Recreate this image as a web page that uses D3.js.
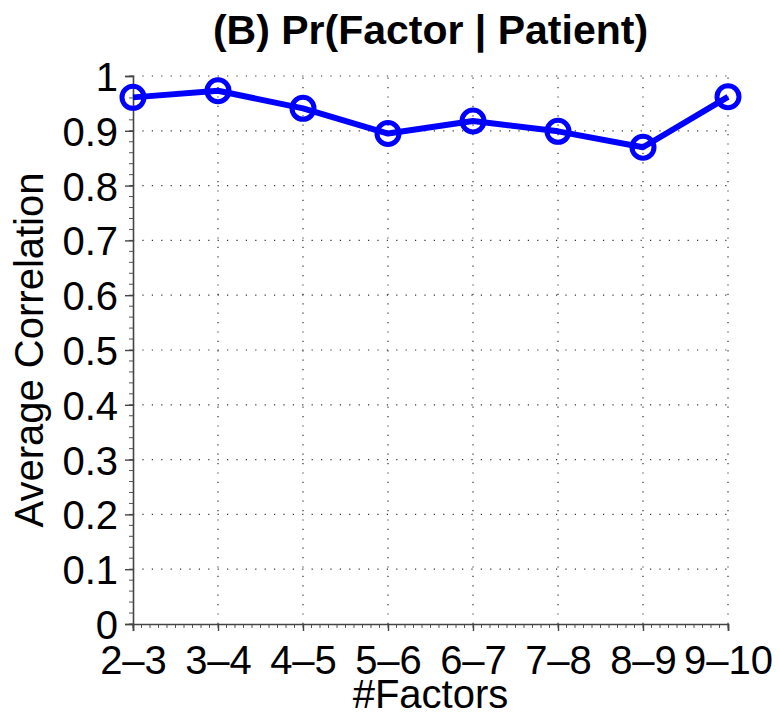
<!DOCTYPE html>
<html>
<head>
<meta charset="utf-8">
<script src="https://cdn.jsdelivr.net/npm/d3@7"></script>
<style>
  body { margin: 0; background: #fff; }
  text { font-family: "Liberation Sans", Arial, sans-serif; fill: #000; }
</style>
</head>
<body>
<div id="chart"></div>
<script>
const w = 780;
const h = 719;

const categories = ["2\u20133", "3\u20134", "4\u20135", "5\u20136", "6\u20137", "7\u20138", "8\u20139", "9\u201310"];
const values = [0.961, 0.973, 0.941, 0.895, 0.918, 0.899, 0.870, 0.962];
const yTicks = [0, 0.1, 0.2, 0.3, 0.4, 0.5, 0.6, 0.7, 0.8, 0.9, 1];
const yTickLabels = ["0", "0.1", "0.2", "0.3", "0.4", "0.5", "0.6", "0.7", "0.8", "0.9", "1"];

const margin = { top: 76, left: 133, right: 52, bottom: 95 };
const width = w - margin.left - margin.right;
const height = h - margin.top - margin.bottom;

const svg = d3.select('#chart').append('svg')
    .attr('width', w)
    .attr('height', h);

const chart = svg.append('g')
    .attr('transform', `translate(${margin.left}, ${margin.top})`);

const x = d3.scaleLinear()
    .domain([0, categories.length - 1])
    .range([0, width]);

const y = d3.scaleLinear()
    .domain([0, 1])
    .range([height, 0]);

// dotted grid
const grid = chart.append('g')
    .attr('stroke', '#333')
    .attr('stroke-width', 1.2)
    .attr('stroke-dasharray', '1.2,8.2');

grid.selectAll('.gy')
    .data(yTicks.slice(1))
    .enter().append('line')
      .attr('x1', 0).attr('x2', width)
      .attr('y1', d => y(d)).attr('y2', d => y(d));

grid.selectAll('.gx')
    .data(d3.range(1, categories.length))
    .enter().append('line')
      .attr('x1', d => x(d)).attr('x2', d => x(d))
      .attr('y1', height).attr('y2', 0);

// minor ticks
const minorY = d3.range(0, 1.0001, 0.02);
chart.append('g').selectAll('line')
    .data(minorY)
    .enter().append('line')
      .attr('x1', -4).attr('x2', 0)
      .attr('y1', d => y(d)).attr('y2', d => y(d))
      .attr('stroke', '#555').attr('stroke-width', 1);

const minorX = d3.range(0, categories.length - 1 + 0.0001, 0.1);
chart.append('g').selectAll('line')
    .data(minorX)
    .enter().append('line')
      .attr('x1', d => x(d)).attr('x2', d => x(d))
      .attr('y1', height).attr('y2', height + 4)
      .attr('stroke', '#555').attr('stroke-width', 1);

// axes
const yAxis = d3.axisLeft(y)
    .tickValues(yTicks)
    .tickFormat((d, i) => yTickLabels[i])
    .tickSize(8)
    .tickPadding(7);

const xAxis = d3.axisBottom(x)
    .tickValues(d3.range(categories.length))
    .tickFormat(i => categories[i])
    .tickSize(7)
    .tickPadding(10);

const gy = chart.append('g').call(yAxis);
const gx = chart.append('g')
    .attr('transform', `translate(0, ${height})`)
    .call(xAxis);

[gy, gx].forEach(g => {
  g.select('.domain').attr('stroke', '#444').attr('stroke-width', 1.6);
  g.selectAll('.tick line').attr('stroke', '#444').attr('stroke-width', 1.4);
  g.selectAll('.tick text')
    .style('font-family', '"Liberation Sans", Arial, sans-serif')
    .style('font-size', '40px')
    .attr('fill', '#000');
});
gy.selectAll('.tick text').attr('dy', '0.36em');
gx.selectAll('.tick text').attr('y', 49.5).attr('dy', 0);

// line + markers
const line = d3.line()
    .x((d, i) => x(i))
    .y(d => y(d));

chart.append('path')
    .datum(values)
    .attr('d', line)
    .attr('fill', 'none')
    .attr('stroke', '#0000ff')
    .attr('stroke-width', 6)
    .attr('stroke-linejoin', 'round');

chart.append('g').selectAll('circle')
    .data(values)
    .enter().append('circle')
      .attr('cx', (d, i) => x(i))
      .attr('cy', d => y(d))
      .attr('r', 11)
      .attr('fill', 'none')
      .attr('stroke', '#0000ff')
      .attr('stroke-width', 5);

// labels
svg.append('text')
    .attr('x', margin.left + width / 2)
    .attr('y', 44)
    .attr('text-anchor', 'middle')
    .style('font-size', '41px')
    .style('font-weight', 'bold')
    .text('(B) Pr(Factor | Patient)');

svg.append('text')
    .attr('x', margin.left + width / 2)
    .attr('y', 708)
    .attr('text-anchor', 'middle')
    .style('font-size', '40px')
    .text('#Factors');

svg.append('text')
    .attr('transform', `translate(43, ${margin.top + height / 2}) rotate(-90)`)
    .attr('text-anchor', 'middle')
    .style('font-size', '40px')
    .text('Average Correlation');
</script>
</body>
</html>
